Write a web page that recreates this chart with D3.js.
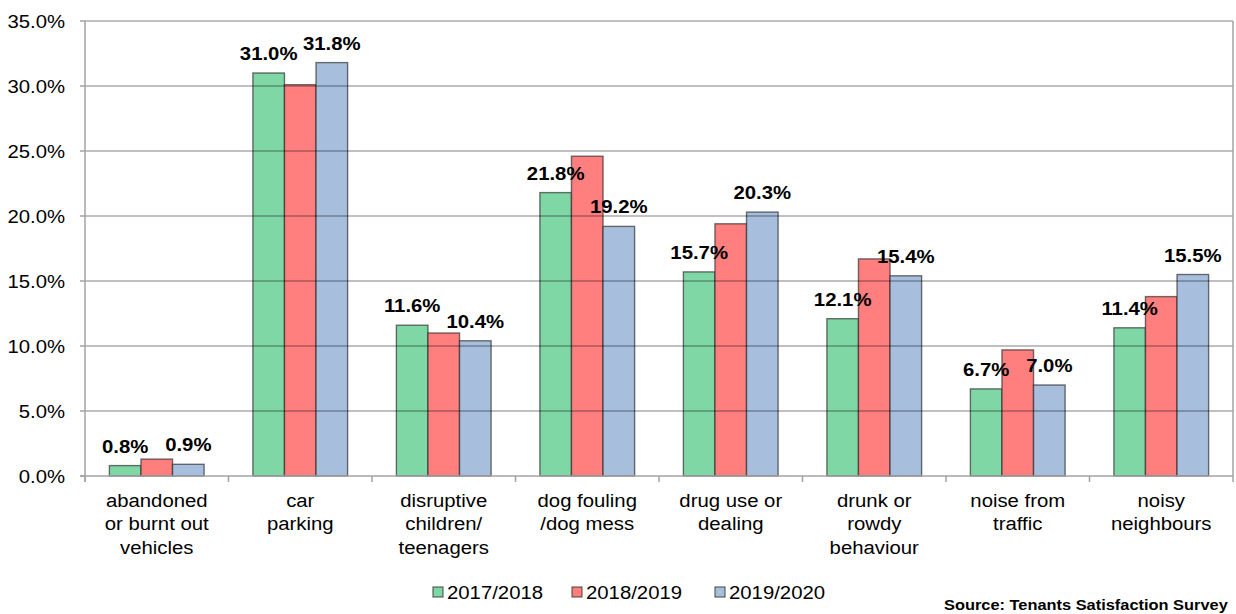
<!DOCTYPE html>
<html>
<head>
<meta charset="utf-8">
<script src="https://cdn.jsdelivr.net/npm/d3@7"></script>
<style>
  html, body { margin: 0; padding: 0; background: #fff; overflow: hidden; }
  svg { display: block; font-family: "Liberation Sans", Arial, sans-serif; }
</style>
</head>
<body>
<svg id="chart" width="1236" height="614"></svg>
<script>
// Categories (each label split into its display lines)
const categories = [
  ["abandoned", "or burnt out", "vehicles"],
  ["car", "parking"],
  ["disruptive", "children/", "teenagers"],
  ["dog fouling", "/dog mess"],
  ["drug use or", "dealing"],
  ["drunk or", "rowdy", "behaviour"],
  ["noise from", "traffic"],
  ["noisy", "neighbours"]
];
const seriesNames = ["2017/2018", "2018/2019", "2019/2020"];
const values2017 = [0.8, 31.0, 11.6, 21.8, 15.7, 12.1, 6.7, 11.4];
const values2018 = [1.3, 30.1, 11.0, 24.6, 19.4, 16.7, 9.7, 13.8];
const values2019 = [0.9, 31.8, 10.4, 19.2, 20.3, 15.4, 7.0, 15.5];
const seriesValues = [values2017, values2018, values2019];
const labelledSeries = [true, false, true];
const yTicks = [0, 5, 10, 15, 20, 25, 30, 35];
const sourceText = "Source: Tenants Satisfaction Survey";

const colors = ["#80d7a6", "#ff7f7f", "#a7bfdd"];
const stretch = 1.13; // horizontal widening applied to all text

const svg = d3.select("#chart");
const plotLeft = 85, plotRight = 1233, plotTop = 21, plotBottom = 476;

const x0 = d3.scaleBand().domain(d3.range(categories.length)).range([plotLeft, plotRight]).padding(0);
const bw = x0.bandwidth();
const x1 = d3.scaleBand().domain(d3.range(seriesNames.length)).range([bw * 0.17, bw * 0.83]).padding(0);
const y = d3.scaleLinear().domain([0, 35]).range([plotBottom, plotTop]);

// helper: text widened horizontally about its anchor point
function stretchedText(g, tx, ty, str, opts) {
  return g.append("text")
    .attr("transform", `translate(${tx},${ty}) scale(${stretch},1)`)
    .attr("text-anchor", opts.anchor || "middle")
    .attr("font-size", opts.size || 18)
    .attr("font-weight", opts.weight || "normal")
    .attr("fill", "#000")
    .text(str);
}

// bars
const groups = svg.append("g").selectAll("g")
  .data(categories)
  .join("g")
  .attr("transform", (d, i) => `translate(${x0(i)},0)`);

groups.selectAll("rect")
  .data((d, i) => seriesValues.map((vals, s) => ({ s, v: vals[i] })))
  .join("rect")
  .attr("x", d => x1(d.s))
  .attr("width", x1.bandwidth())
  .attr("y", d => y(d.v))
  .attr("height", d => y(0) - y(d.v))
  .attr("fill", d => colors[d.s])
  .attr("stroke", "rgba(40,40,40,0.65)")
  .attr("stroke-width", 1.4);

// horizontal gridlines drawn over the bars (translucent)
svg.append("g").selectAll("line")
  .data(yTicks.filter(t => t > 0))
  .join("line")
  .attr("x1", plotLeft).attr("x2", plotRight)
  .attr("y1", d => y(d)).attr("y2", d => y(d))
  .attr("stroke", "rgba(0,0,0,0.33)")
  .attr("stroke-width", 1.3);

// frame: left axis, bottom axis, right edge
const axisColor = "#a3a3a3";
svg.append("line").attr("x1", plotLeft).attr("x2", plotLeft).attr("y1", plotTop).attr("y2", plotBottom + 6)
  .attr("stroke", axisColor).attr("stroke-width", 1.5);
svg.append("line").attr("x1", plotRight).attr("x2", plotRight).attr("y1", plotTop).attr("y2", plotBottom)
  .attr("stroke", axisColor).attr("stroke-width", 1.5);
svg.append("line").attr("x1", plotLeft - 5).attr("x2", plotRight).attr("y1", plotBottom).attr("y2", plotBottom)
  .attr("stroke", axisColor).attr("stroke-width", 1.5);

// y axis ticks and labels
const yAxis = svg.append("g");
yTicks.forEach(t => {
  yAxis.append("line").attr("x1", plotLeft - 5).attr("x2", plotLeft).attr("y1", y(t)).attr("y2", y(t))
    .attr("stroke", axisColor).attr("stroke-width", 1.5);
  stretchedText(yAxis, 65, y(t) + 7, d3.format(".1f")(t) + "%", { anchor: "end", size: 18 });
});

// x axis category dividers
const xTicks = svg.append("g");
d3.range(categories.length + 1).forEach(i => {
  const xx = i < categories.length ? x0(i) : plotRight;
  xTicks.append("line").attr("x1", xx).attr("x2", xx).attr("y1", plotBottom).attr("y2", plotBottom + 6)
    .attr("stroke", axisColor).attr("stroke-width", 1.5);
});

// category labels
const catG = svg.append("g");
categories.forEach((lines, i) => {
  lines.forEach((ln, k) => {
    stretchedText(catG, x0(i) + bw / 2, 507 + k * 23.4, ln, { size: 18 });
  });
});

// value labels
const valG = svg.append("g");
categories.forEach((c, i) => {
  seriesValues.forEach((vals, s) => {
    if (!labelledSeries[s]) return;
    stretchedText(valG, x0(i) + x1(s) + x1.bandwidth() / 2, y(vals[i]) - 13,
      d3.format(".1f")(vals[i]) + "%", { size: 18, weight: "bold" });
  });
});

// legend
const legendX = [433, 572, 715];
const legend = svg.append("g");
seriesNames.forEach((name, s) => {
  legend.append("rect")
    .attr("x", legendX[s]).attr("y", 587).attr("width", 10).attr("height", 10)
    .attr("fill", colors[s]).attr("stroke", "rgba(40,40,40,0.7)").attr("stroke-width", 1.2);
  stretchedText(legend, legendX[s] + 14, 599, name, { anchor: "start", size: 18 });
});

// source note
stretchedText(svg, 944, 610, sourceText, { anchor: "start", size: 14.5, weight: "bold" });
</script>
</body>
</html>
